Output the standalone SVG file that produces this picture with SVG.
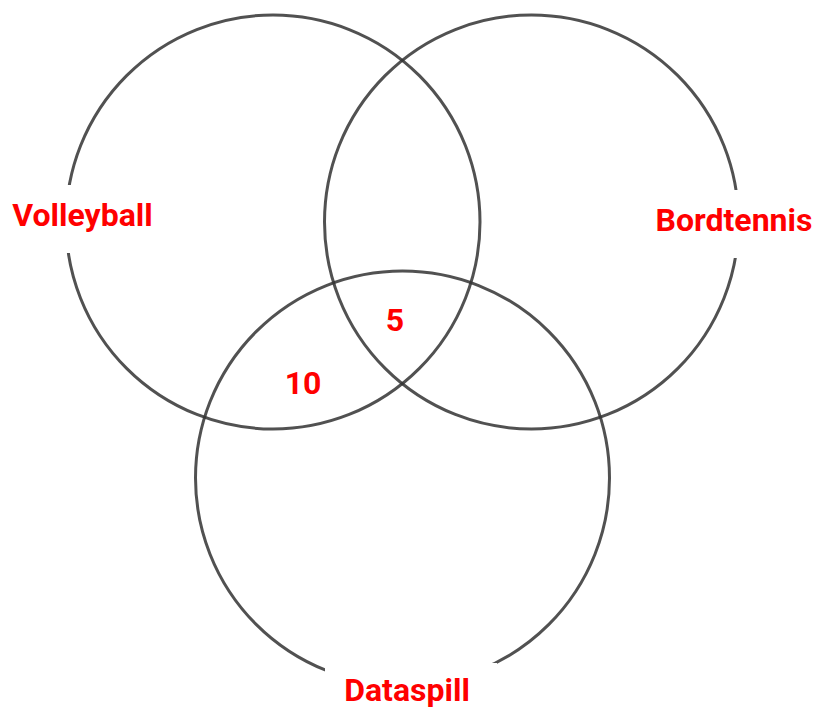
<svg xmlns="http://www.w3.org/2000/svg" width="815" height="707" viewBox="0 0 815 707">
<style>
.c{fill:none;stroke:#333;stroke-opacity:0.85;stroke-width:3}
.bg{fill:#fff}
.t{font-family:Roboto,"Liberation Sans",sans-serif;font-weight:bold;fill:#ff0000;font-size:32px;text-anchor:middle}
</style>
<rect width="815" height="707" fill="#fff"/>
<g id="connectors"></g>
<g id="volleyball"><circle class="c" cx="273" cy="222" r="207"/></g>
<g id="bordtennis"><circle class="c" cx="531.5" cy="222" r="207"/></g>
<g id="dataspill"><circle class="c" cx="402.5" cy="478" r="207"/></g>
<g id="label-volleyball"><rect class="bg" x="6" y="185" width="154" height="68"/><text class="t" x="82.5" y="226">Volleyball</text></g>
<g id="label-bordtennis"><rect class="bg" x="650" y="190" width="165" height="68"/><text class="t" x="734" y="231">Bordtennis</text></g>
<g id="label-dataspill"><rect class="bg" x="325" y="663" width="172" height="44"/><text class="t" x="407" y="701">Dataspill</text></g>
<g id="n5"><text class="t" x="395" y="331">5</text></g>
<g id="n10"><text class="t" x="303" y="394">10</text></g>
</svg>
